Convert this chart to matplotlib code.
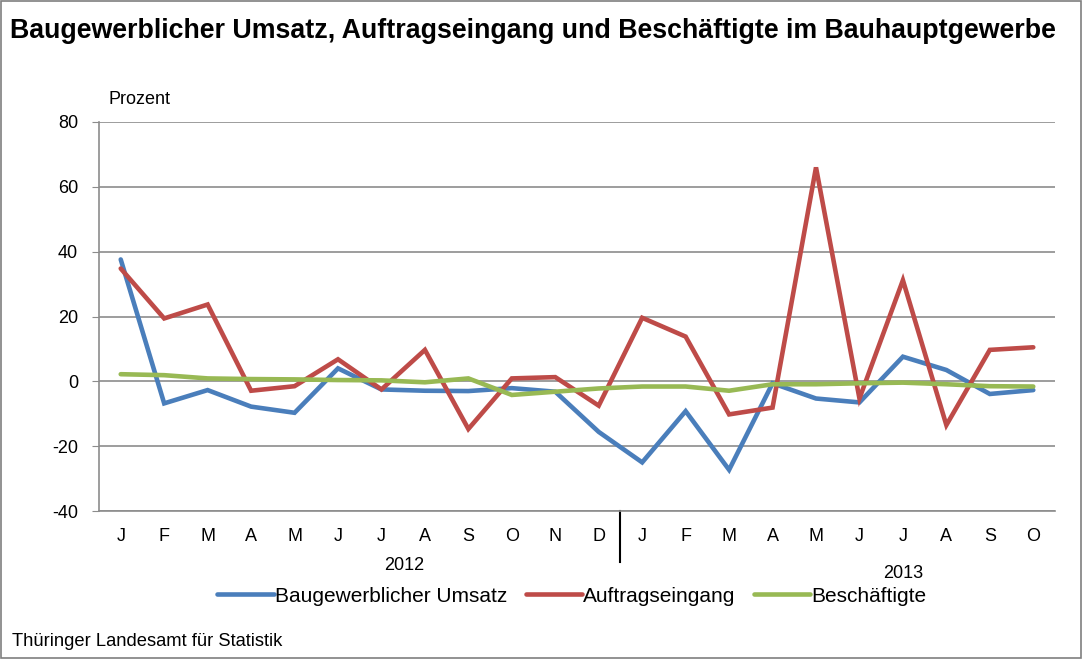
import matplotlib.pyplot as plt
from matplotlib.patches import Rectangle

plt.rcParams['font.family'] = ['Liberation Sans', 'DejaVu Sans']
plt.rcParams['axes.unicode_minus'] = False

months = ['J', 'F', 'M', 'A', 'M', 'J', 'J', 'A', 'S', 'O', 'N', 'D',
          'J', 'F', 'M', 'A', 'M', 'J', 'J', 'A', 'S', 'O']
years = ['2012', '2013']

umsatz = [37.6, -6.8, -2.7, -7.8, -9.7, 4.0, -2.5, -2.9, -3.0, -2.1, -3.2, -15.6,
          -25.0, -9.2, -27.3, -0.6, -5.3, -6.5, 7.6, 3.5, -3.9, -2.7]
auftrag = [34.8, 19.4, 23.7, -2.9, -1.5, 6.8, -2.5, 9.7, -14.7, 0.9, 1.3, -7.5,
           19.6, 13.8, -10.2, -8.1, 66.0, -5.3, 31.2, -13.5, 9.7, 10.5]
beschaeftigte = [2.2, 1.9, 0.9, 0.7, 0.6, 0.4, 0.3, -0.3, 0.9, -4.2, -3.2, -2.2,
                 -1.6, -1.6, -2.9, -0.9, -0.9, -0.6, -0.4, -0.9, -1.5, -1.6]

c_blue = '#4A7EBB'
c_red = '#BE4B48'
c_green = '#98B954'
grid_c = '#8c8c8c'

fig = plt.figure(figsize=(10.83, 6.59), dpi=100)
W, H = 1083, 659

# grauer Rahmen um das ganze Diagramm
fig.patches.append(Rectangle((0.0005, 0.0008), 0.998, 0.998, transform=fig.transFigure,
                             fill=False, edgecolor='#7f7f7f', linewidth=1.2))

ax = fig.add_axes([99 / W, 1 - 511 / H, (1055 - 99) / W, (511 - 122) / H])
x = list(range(len(months)))

ax.plot(x, umsatz, color=c_blue, lw=3.3, solid_capstyle='round', solid_joinstyle='miter',
        label='Baugewerblicher Umsatz', zorder=3)
ax.plot(x, auftrag, color=c_red, lw=3.3, solid_capstyle='round', solid_joinstyle='miter',
        label='Auftragseingang', zorder=4)
ax.plot(x, beschaeftigte, color=c_green, lw=3.3, solid_capstyle='round', solid_joinstyle='miter',
        label='Beschäftigte', zorder=5)

ax.set_xlim(-0.5, len(months) - 0.5)
ax.set_ylim(-40, 80)
ax.set_yticks(range(-40, 81, 20))
ax.yaxis.grid(True, color=grid_c, lw=1.2)
ax.set_axisbelow(True)
for s in ['top', 'right']:
    ax.spines[s].set_visible(False)
for s in ['left', 'bottom']:
    ax.spines[s].set_color(grid_c)
    ax.spines[s].set_linewidth(1.2)
ax.tick_params(axis='y', length=5, color=grid_c, labelsize=13, pad=10)
ax.set_xticks(x)
ax.set_xticklabels(months)
ax.tick_params(axis='x', length=0, labelsize=13, pad=12)

# Jahrestrenner und Jahreszahlen
ax.plot([11.5, 11.5], [0, -0.13], transform=ax.get_xaxis_transform(), color='black',
        lw=1.5, clip_on=False)
fig.text(404 / W, 1 - 565 / H, years[0], ha='center', va='center', fontsize=13)
fig.text(903 / W, 1 - 573 / H, years[1], ha='center', va='center', fontsize=13)

fig.text(10 / W, 1 - 31 / H, 'Baugewerblicher Umsatz, Auftragseingang und Beschäftigte im Bauhauptgewerbe',
         ha='left', va='center', fontsize=19.3, fontweight='bold')
fig.text(108 / W, 1 - 100 / H, 'Prozent', ha='left', va='center', fontsize=13)
fig.text(12 / W, 1 - 641 / H, 'Thüringer Landesamt für Statistik', ha='left', va='center', fontsize=13.2)

handles, labels = ax.get_legend_handles_labels()
fig.legend(handles, labels, loc='center', bbox_to_anchor=(572 / W, 1 - 596 / H), ncol=3,
           frameon=False, fontsize=15, handlelength=2.7, handletextpad=0.05,
           columnspacing=0.9)

fig.savefig('out.png', dpi=100)
